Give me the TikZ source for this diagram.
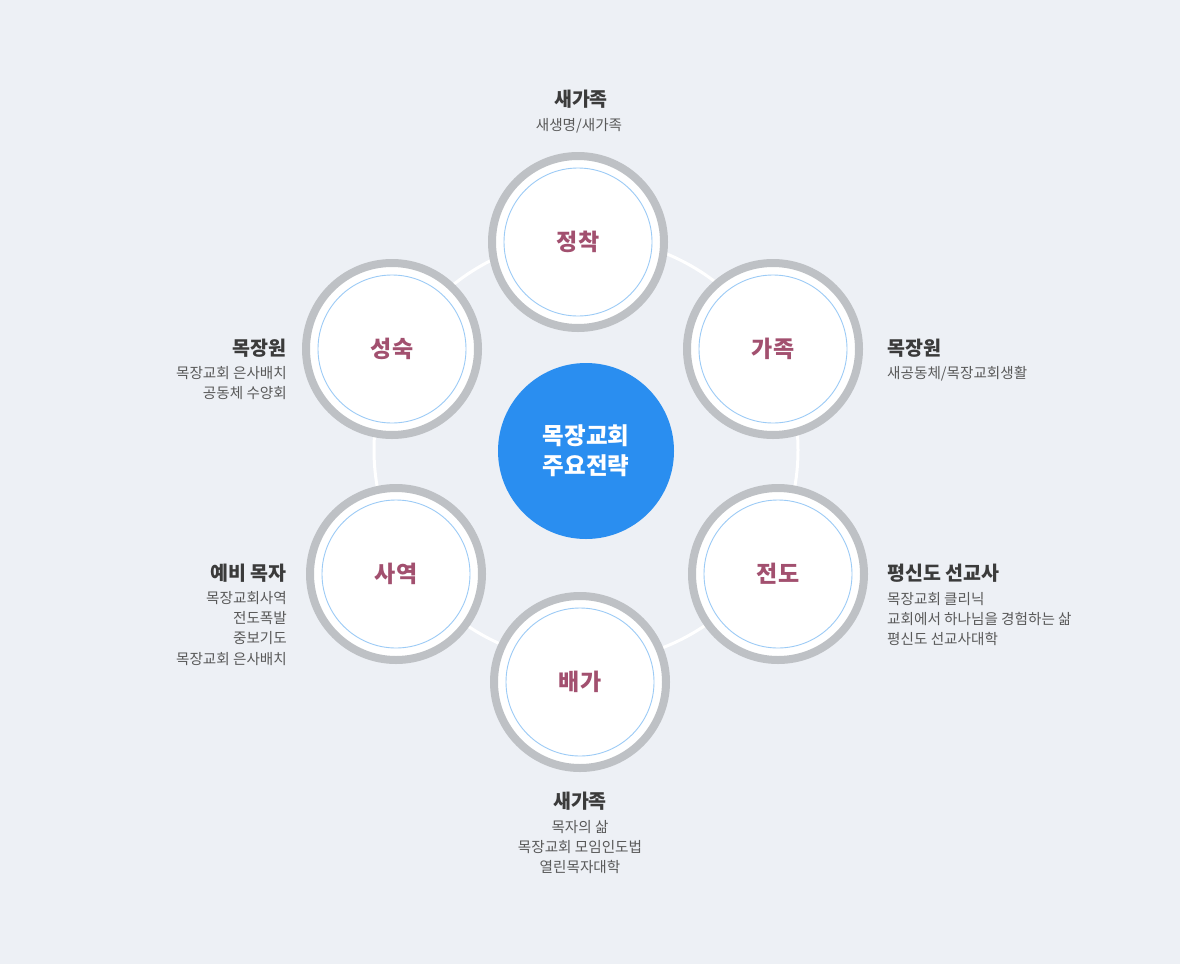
\documentclass[tikz,border=0pt]{standalone}
\usepackage{fontspec}
\setmainfont{Noto Sans CJK KR}
\definecolor{bgc}{HTML}{EDF0F5}
\definecolor{ringgray}{HTML}{BEC1C5}
\definecolor{innerblue}{HTML}{9CCBF6}
\definecolor{labelc}{HTML}{A2506F}
\definecolor{centerblue}{HTML}{2A8EF0}
\definecolor{headc}{HTML}{3B3B3B}
\definecolor{subc}{HTML}{595959}
\begin{document}
\begin{tikzpicture}[x=1pt,y=-1pt,
  ringnode/.style={circle, draw=ringgray, line width=8pt, fill=white, minimum size=172pt, inner sep=0pt,
    text=labelc, font=\fontsize{23}{27}\selectfont\bfseries},
  innerring/.style={draw=innerblue, line width=0.9pt},
  hub/.style={circle, fill=centerblue, minimum size=176pt, inner sep=0pt, text=white, align=center,
    font=\fontsize{23.5}{30}\selectfont\bfseries},
  bigring/.style={draw=white, line width=3pt},
  head/.style={inner sep=0pt, text=headc, font=\fontsize{19.5}{23}\selectfont\bfseries, text height=15pt, text depth=4pt},
  sub/.style={inner sep=0pt, text=subc, font=\fontsize{14.6}{18}\selectfont, text height=11.5pt, text depth=3pt}
]
\fill[bgc] (0,0) rectangle (1180,964);
\useasboundingbox (0,0) rectangle (1180,964);

\coordinate (o) at (586,450);
\draw[bigring] (o) circle (212pt);

\node[hub] (c) at (586,451) {목장교회\\주요전략};

\node[ringnode] (n1) at (578,242) {정착};
\node[ringnode] (n2) at (773,349) {가족};
\node[ringnode] (n3) at (778,574) {전도};
\node[ringnode] (n4) at (580,682) {배가};
\node[ringnode] (n5) at (396,574) {사역};
\node[ringnode] (n6) at (392,349) {성숙};
\foreach \n in {n1,n2,n3,n4,n5,n6}{
  \draw[innerring] (\n.center) circle (74pt);
}

% top
\node[head] (h1) at (581,100.5) {새가족};
\node[sub] (s1a) at (579,126) {새생명/새가족};

% right upper
\node[head,anchor=west] (h2) at (887,349.5) {목장원};
\node[sub,anchor=west] (s2a) at (887,374.5) {새공동체/목장교회생활};

% right lower
\node[head,anchor=west] (h3) at (887,574.5) {평신도 선교사};
\node[sub,anchor=west] (s3a) at (887,600) {목장교회 클리닉};
\node[sub,anchor=west] (s3b) at (887,620) {교회에서 하나님을 경험하는 삶};
\node[sub,anchor=west] (s3c) at (887,640) {평신도 선교사대학};

% bottom
\node[head] (h4) at (580,802.5) {새가족};
\node[sub] (s4a) at (580,828.5) {목자의 삶};
\node[sub] (s4b) at (580,848.5) {목장교회 모임인도법};
\node[sub] (s4c) at (580,868.5) {열린목자대학};

% left lower
\node[head,anchor=east] (h5) at (287,574.5) {예비 목자};
\node[sub,anchor=east] (s5a) at (287,599.5) {목장교회사역};
\node[sub,anchor=east] (s5b) at (287,619.5) {전도폭발};
\node[sub,anchor=east] (s5c) at (287,639.5) {중보기도};
\node[sub,anchor=east] (s5d) at (287,660) {목장교회 은사배치};

% left upper
\node[head,anchor=east] (h6) at (287,349.5) {목장원};
\node[sub,anchor=east] (s6a) at (287,374.5) {목장교회 은사배치};
\node[sub,anchor=east] (s6b) at (287,394.5) {공동체 수양회};
\end{tikzpicture}
\end{document}
